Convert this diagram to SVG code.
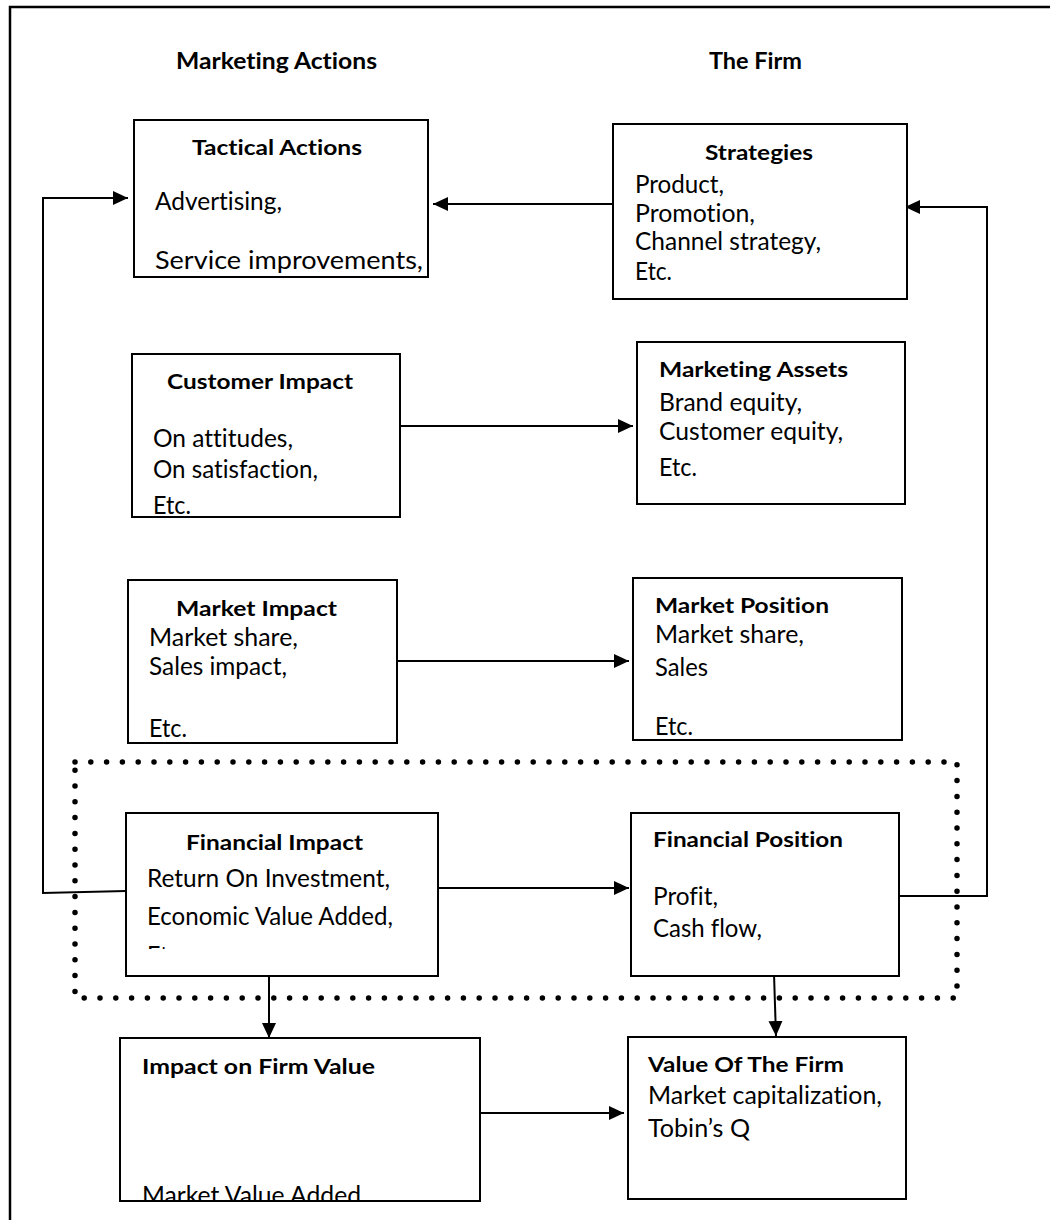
<svg xmlns="http://www.w3.org/2000/svg" width="1050" height="1220" viewBox="0 0 1050 1220">
<defs>
<marker id="arr" markerUnits="userSpaceOnUse" markerWidth="17" markerHeight="15" refX="15" refY="7" orient="auto">
<path d="M0,0 L15,7 L0,14 z" fill="#000"/>
</marker>
<clipPath id="clipFI"><rect x="126" y="813" width="312" height="136"/></clipPath>
<clipPath id="clipIFV"><rect x="120" y="1038" width="360" height="162"/></clipPath>
</defs>
<style>
text{font-variant-ligatures:none;font-feature-settings:"liga" 0}
.box{fill:#fff;stroke:#000;stroke-width:2}
.t{font-family:Lato,"Liberation Sans",sans-serif;font-weight:bold;font-size:21px;fill:#000}
.b{font-family:Lato,"Liberation Sans",sans-serif;font-size:25px;fill:#000}
.h{font-family:Lato,"Liberation Sans",sans-serif;font-weight:bold;font-size:22px;fill:#000}
.c{fill:none;stroke:#000;stroke-width:2}
.dot{fill:none;stroke:#000;stroke-width:5.5;stroke-linecap:round;stroke-dasharray:0 15.8}
</style>
<rect width="1050" height="1220" fill="#fff"/>
<path d="M10,1220 L10,7 L1050,7" fill="none" stroke="#000" stroke-width="2.5"/>
<g id="headers">
<text class="h" x="176" y="69" textLength="201" lengthAdjust="spacingAndGlyphs">Marketing Actions</text>
<text class="h" x="709" y="69" textLength="93" lengthAdjust="spacingAndGlyphs">The Firm</text>
</g>
<g id="financial-group">
<rect class="dot" x="75" y="762" width="882" height="236"/>
</g>
<g id="connectors">
<line class="c" x1="613" y1="204" x2="433" y2="204" marker-end="url(#arr)"/>
<polyline class="c" points="126,891 43,893 43,198 128,198" marker-end="url(#arr)"/>
<polyline class="c" points="899,896 987,896 987,207 905,207" marker-end="url(#arr)"/>
<line class="c" x1="400" y1="426" x2="633" y2="426" marker-end="url(#arr)"/>
<line class="c" x1="397" y1="661" x2="629" y2="661" marker-end="url(#arr)"/>
<line class="c" x1="438" y1="888" x2="629" y2="888" marker-end="url(#arr)"/>
<line class="c" x1="269" y1="974" x2="269" y2="1038" marker-end="url(#arr)"/>
<line class="c" x1="774" y1="974" x2="776" y2="1036" marker-end="url(#arr)"/>
<line class="c" x1="480" y1="1113" x2="624" y2="1113" marker-end="url(#arr)"/>
</g>
<g id="tactical-actions">
<rect class="box" x="134" y="120" width="294" height="157"/>
<text class="t" x="192" y="155" textLength="170" lengthAdjust="spacingAndGlyphs">Tactical Actions</text>
<text class="b" x="155" y="210" textLength="127" lengthAdjust="spacingAndGlyphs">Advertising,</text>
<text class="b" x="155" y="269" textLength="268" lengthAdjust="spacingAndGlyphs">Service improvements,</text>
</g>
<g id="strategies">
<rect class="box" x="613" y="124" width="294" height="175"/>
<text class="t" x="705" y="160" textLength="108" lengthAdjust="spacingAndGlyphs">Strategies</text>
<text class="b" x="635" y="193" textLength="89" lengthAdjust="spacingAndGlyphs">Product,</text>
<text class="b" x="635" y="222" textLength="120" lengthAdjust="spacingAndGlyphs">Promotion,</text>
<text class="b" x="635" y="250" textLength="186" lengthAdjust="spacingAndGlyphs">Channel strategy,</text>
<text class="b" x="635" y="280" textLength="37" lengthAdjust="spacingAndGlyphs">Etc.</text>
</g>
<g id="customer-impact">
<rect class="box" x="132" y="354" width="268" height="163"/>
<text class="t" x="167" y="389" textLength="186" lengthAdjust="spacingAndGlyphs">Customer Impact</text>
<text class="b" x="153" y="447" textLength="140" lengthAdjust="spacingAndGlyphs">On attitudes,</text>
<text class="b" x="153" y="478" textLength="165" lengthAdjust="spacingAndGlyphs">On satisfaction,</text>
<text class="b" x="153" y="514" textLength="38" lengthAdjust="spacingAndGlyphs">Etc.</text>
</g>
<g id="marketing-assets">
<rect class="box" x="637" y="342" width="268" height="162"/>
<text class="t" x="659" y="377" textLength="189" lengthAdjust="spacingAndGlyphs">Marketing Assets</text>
<text class="b" x="659" y="411" textLength="143" lengthAdjust="spacingAndGlyphs">Brand equity,</text>
<text class="b" x="659" y="440" textLength="184" lengthAdjust="spacingAndGlyphs">Customer equity,</text>
<text class="b" x="659" y="476" textLength="38" lengthAdjust="spacingAndGlyphs">Etc.</text>
</g>
<g id="market-impact">
<rect class="box" x="128" y="580" width="269" height="163"/>
<text class="t" x="176" y="616" textLength="161" lengthAdjust="spacingAndGlyphs">Market Impact</text>
<text class="b" x="149" y="646" textLength="149" lengthAdjust="spacingAndGlyphs">Market share,</text>
<text class="b" x="149" y="675" textLength="138" lengthAdjust="spacingAndGlyphs">Sales impact,</text>
<text class="b" x="149" y="737" textLength="38" lengthAdjust="spacingAndGlyphs">Etc.</text>
</g>
<g id="market-position">
<rect class="box" x="633" y="578" width="269" height="162"/>
<text class="t" x="655" y="613" textLength="174" lengthAdjust="spacingAndGlyphs">Market Position</text>
<text class="b" x="655" y="643" textLength="149" lengthAdjust="spacingAndGlyphs">Market share,</text>
<text class="b" x="655" y="676" textLength="53" lengthAdjust="spacingAndGlyphs">Sales</text>
<text class="b" x="655" y="735" textLength="38" lengthAdjust="spacingAndGlyphs">Etc.</text>
</g>
<g id="financial-impact">
<rect class="box" x="126" y="813" width="312" height="163"/>
<text class="t" x="186" y="850" textLength="177" lengthAdjust="spacingAndGlyphs">Financial Impact</text>
<text class="b" x="147" y="887" textLength="243" lengthAdjust="spacingAndGlyphs">Return On Investment,</text>
<text class="b" x="147" y="925" textLength="246" lengthAdjust="spacingAndGlyphs">Economic Value Added,</text>
<text class="b" x="147" y="964" textLength="38" lengthAdjust="spacingAndGlyphs" clip-path="url(#clipFI)">Etc.</text>
</g>
<g id="financial-position">
<rect class="box" x="631" y="813" width="268" height="163"/>
<text class="t" x="653" y="847" textLength="190" lengthAdjust="spacingAndGlyphs">Financial Position</text>
<text class="b" x="653" y="905" textLength="65" lengthAdjust="spacingAndGlyphs">Profit,</text>
<text class="b" x="653" y="937" textLength="109" lengthAdjust="spacingAndGlyphs">Cash flow,</text>
</g>
<g id="impact-on-firm-value">
<rect class="box" x="120" y="1038" width="360" height="163"/>
<text class="t" x="142" y="1074" textLength="233" lengthAdjust="spacingAndGlyphs">Impact on Firm Value</text>
<text class="b" x="142" y="1204" textLength="219" lengthAdjust="spacingAndGlyphs" clip-path="url(#clipIFV)">Market Value Added</text>
</g>
<g id="value-of-the-firm">
<rect class="box" x="628" y="1037" width="278" height="162"/>
<text class="t" x="648" y="1072" textLength="196" lengthAdjust="spacingAndGlyphs">Value Of The Firm</text>
<text class="b" x="648" y="1104" textLength="234" lengthAdjust="spacingAndGlyphs">Market capitalization,</text>
<text class="b" x="648" y="1137" textLength="102" lengthAdjust="spacingAndGlyphs">Tobin’s Q</text>
</g>
</svg>
